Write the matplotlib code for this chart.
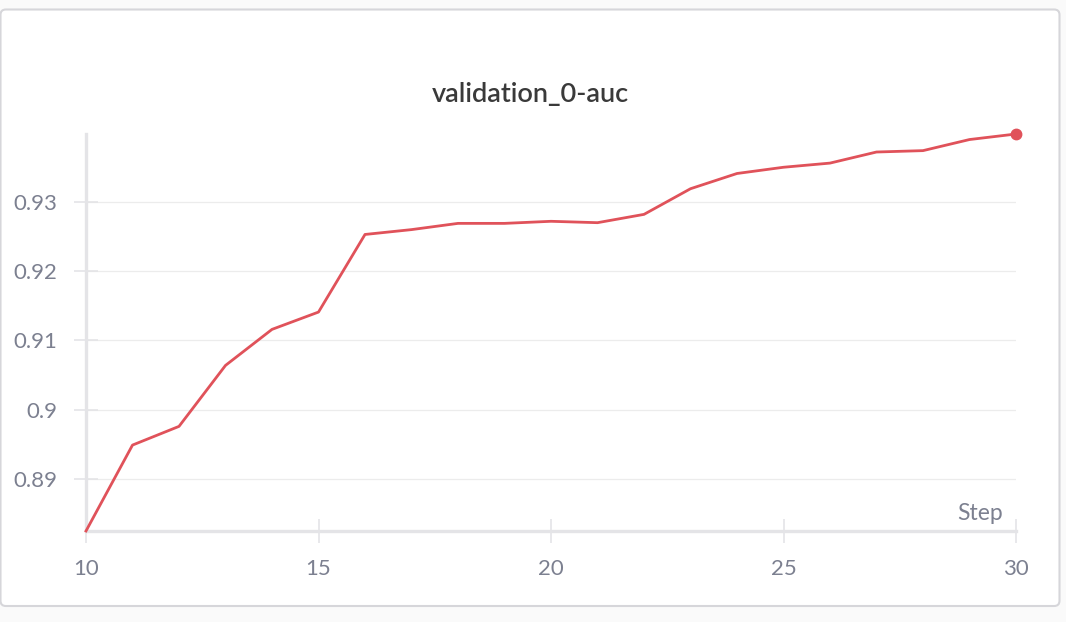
import matplotlib
matplotlib.use("Agg")
import matplotlib.pyplot as plt
from matplotlib.patches import FancyBboxPatch

steps = [10, 11, 12, 13, 14, 15, 16, 17, 18, 19, 20, 21, 22, 23, 24, 25, 26, 27, 28, 29, 30]
auc = [0.8825, 0.8949, 0.8976, 0.9064, 0.9116, 0.9141, 0.9253, 0.9260, 0.9269, 0.9269,
       0.9272, 0.9270, 0.9282, 0.9319, 0.9341, 0.9350, 0.9356, 0.9372, 0.9374, 0.9390, 0.9398]
x_ticks = [10, 15, 20, 25, 30]
y_ticks = [0.89, 0.90, 0.91, 0.92, 0.93]
y_tick_labels = ["0.89", "0.9", "0.91", "0.92", "0.93"]
title = "validation_0-auc"
x_label = "Step"

plt.rcParams['font.family'] = ['Lato', 'DejaVu Sans']

W, H = 1066, 622
fig = plt.figure(figsize=(W / 100, H / 100), dpi=100, facecolor='#fafafa')

card = FancyBboxPatch((0.5 / W, 1 - 606 / H), 1059 / W, (606 - 9.5) / H,
                      boxstyle="round,pad=0,rounding_size=0.005",
                      mutation_aspect=W / H,
                      transform=fig.transFigure, facecolor='white',
                      edgecolor='#d6d6da', linewidth=1.5, zorder=-10)
fig.patches.append(card)

ax = fig.add_axes([86 / W, 1 - 531 / H, (1016 - 86) / W, (531 - 134) / H])
ax.set_facecolor('none')
ax.set_zorder(5)

line_color = '#e0525a'
ax.plot(steps, auc, color=line_color, linewidth=2.0, zorder=3, clip_on=False)
ax.plot([steps[-1]], [auc[-1]], 'o', color=line_color, markersize=7.5, zorder=4, clip_on=False)

ax.set_xlim(steps[0], steps[-1])
ax.set_ylim(min(auc), max(auc))

axis_col = '#e4e4e7'
for s in ['top', 'right']:
    ax.spines[s].set_visible(False)
for s in ['left', 'bottom']:
    ax.spines[s].set_color(axis_col)
    ax.spines[s].set_linewidth(2.4)
    ax.spines[s].set_zorder(1)

ax.set_xticks(x_ticks)
ax.set_yticks(y_ticks)
ax.set_yticklabels(y_tick_labels)
tick_col = '#7c8090'
ax.tick_params(axis='y', direction='inout', length=17, width=1.2, color=axis_col,
               labelsize=16, labelcolor=tick_col, pad=12)
ax.tick_params(axis='x', direction='inout', length=17, width=1.2, color=axis_col,
               labelsize=16, labelcolor=tick_col, pad=12)

ax.grid(axis='y', color='#ececec', linewidth=0.9, zorder=0)
ax.set_axisbelow(True)

fig.text(530 / W, 1 - 94 / H, title, ha='center', va='center', fontsize=19.5,
         fontweight='semibold', color='#3a3a3a')
fig.text(1003 / W, 1 - 513 / H, x_label, ha='right', va='center', fontsize=16.5,
         color=tick_col)

fig.savefig('out.png', dpi=100, facecolor=fig.get_facecolor())
